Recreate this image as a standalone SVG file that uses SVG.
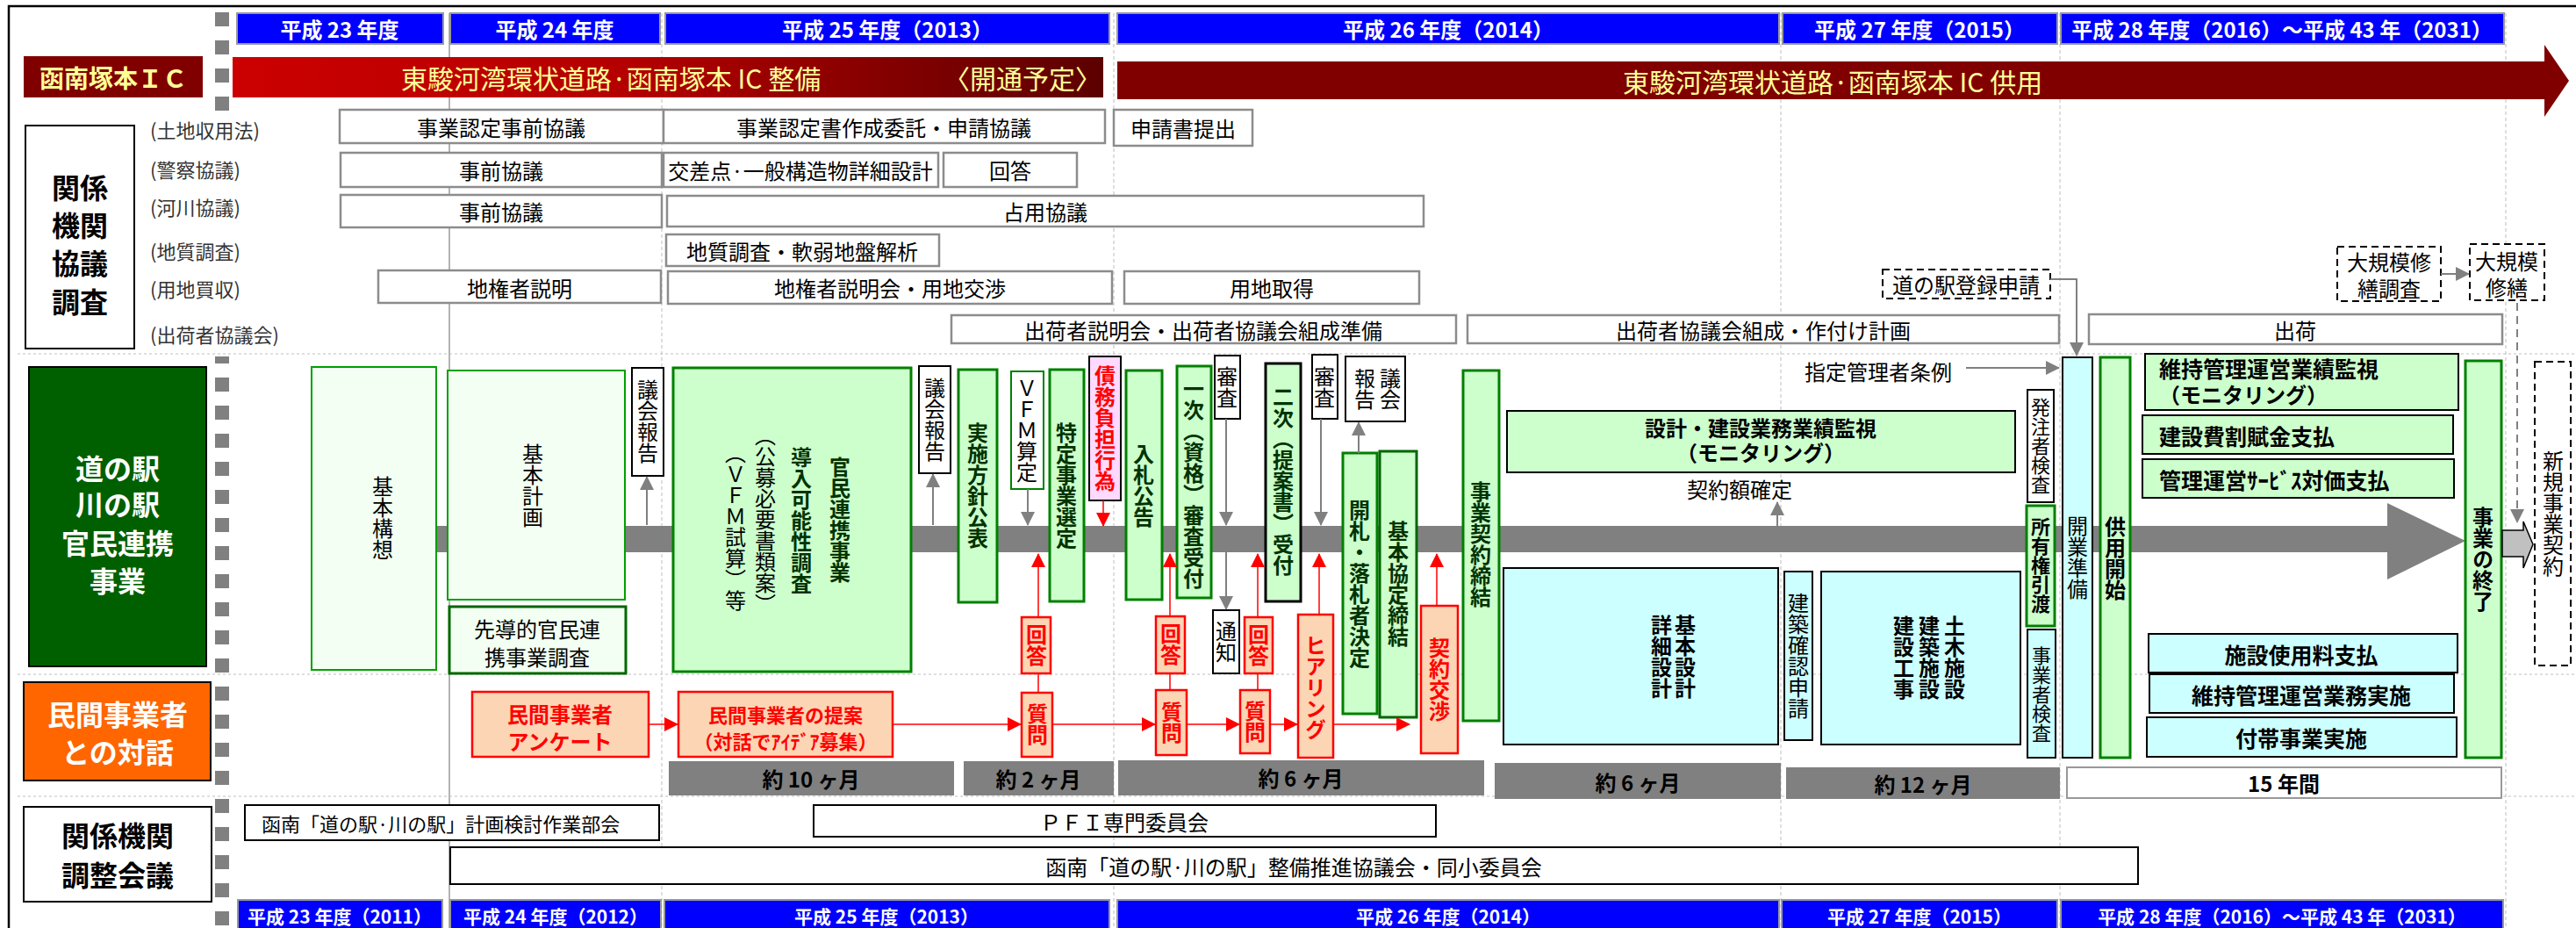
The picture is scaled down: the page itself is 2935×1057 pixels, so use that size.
<svg xmlns="http://www.w3.org/2000/svg" width="2935" height="1057" viewBox="0 0 2935 1057">
<defs>
<style>
text{font-family:"Noto Sans CJK JP","Noto Sans",sans-serif;fill:#000;font-size:24px}
.m{text-anchor:middle;dominant-baseline:central}
.st{dominant-baseline:central}
.v{writing-mode:vertical-rl;text-anchor:middle;dominant-baseline:central}
.b{font-weight:bold}
.s21{font-size:21px}.s22{font-size:22px}.s25{font-size:25px}.s28{font-size:28px}.s30{font-size:30px}.s32{font-size:32px}
.yw{fill:#fff;font-weight:bold}
.yl{fill:#FFFF99}
.red{fill:#FF0000;font-weight:bold}
.dg{fill:#003300;font-weight:bold}
.cat{fill:#333;font-size:22px;dominant-baseline:central}
.yr{fill:#0000FF;stroke:#999;stroke-width:2}
.row{fill:#fff;stroke:#8c8c8c;stroke-width:2.5}
.g{fill:#CCFFCC;stroke:#008000;stroke-width:3}
.gl{fill:#F2FFF2;stroke:#00A000;stroke-width:2}
.cy{fill:#CCFFFF;stroke:#000;stroke-width:2}
.gk{fill:#CCFFCC;stroke:#000;stroke-width:2}
.wb{fill:#fff;stroke:#000;stroke-width:2}
.or{fill:#FCD5B4;stroke:#FF0000;stroke-width:2.5}
.dash{fill:#fff;stroke:#000;stroke-width:2;stroke-dasharray:8 5}
.dur{fill:#808080}
.ga{stroke:#808080;stroke-width:2;fill:none;marker-end:url(#ag)}
.ra{stroke:#FF0000;stroke-width:1.5;fill:none}
.rae{stroke:#FF0000;stroke-width:1.5;fill:none;marker-end:url(#ar)}
.grid{stroke:#c8c8c8;stroke-width:1.2;stroke-dasharray:4 3}
.hdiv{stroke:#c0c0c0;stroke-width:1.2;stroke-dasharray:3 3}
.col{stroke:#808080;stroke-width:16;stroke-dasharray:16 16}
</style>
<marker id="ag" markerUnits="userSpaceOnUse" markerWidth="16" markerHeight="16" refX="15" refY="8" orient="auto"><path d="M0,0 L16,8 L0,16 z" fill="#808080"/></marker>
<marker id="ar" markerUnits="userSpaceOnUse" markerWidth="16" markerHeight="16" refX="15" refY="8" orient="auto"><path d="M0,0 L16,8 L0,16 z" fill="#FF0000"/></marker>
<linearGradient id="rg" x1="0" y1="0" x2="1" y2="0">
<stop offset="0" stop-color="#CC0000"/><stop offset="0.45" stop-color="#B40000"/><stop offset="1" stop-color="#5C0000"/>
</linearGradient>
</defs>
<rect x="0" y="0" width="2935" height="1057" fill="#fff"/>
<g id="grid">
<line x1="512" y1="15" x2="512" y2="1057" stroke="#9a9a9a" stroke-width="1.5"/>
<line class="grid" x1="754" y1="15" x2="754" y2="1057"/>
<line class="grid" x1="1269" y1="15" x2="1269" y2="1057"/>
<line class="grid" x1="2029" y1="15" x2="2029" y2="1057"/>
<line class="grid" x1="2347" y1="15" x2="2347" y2="1057"/>
<line class="grid" x1="2855" y1="15" x2="2855" y2="1057"/>
<line class="hdiv" x1="20" y1="403" x2="2935" y2="403"/>
<line class="hdiv" x1="20" y1="768" x2="2935" y2="768"/>
<line class="hdiv" x1="20" y1="907" x2="2935" y2="907"/>
</g>
<path d="M10,1057 V7 H2935" fill="none" stroke="#000" stroke-width="2.5"/>
<line class="col" x1="253" y1="14" x2="253" y2="126"/>
<line class="col" x1="253" y1="406" x2="253" y2="1057" stroke-dashoffset="8"/>

<g id="years-top">
<rect class="yr" x="270" y="15" width="235" height="35" stroke="none"/><text class="m yw" x="387" y="32">平成 23 年度</text>
<rect class="yr" x="513" y="15" width="239" height="35"/><text class="m yw" x="632" y="32">平成 24 年度</text>
<rect class="yr" x="758" y="15" width="506" height="35"/><text class="m yw" x="1011" y="32">平成 25 年度（2013）</text>
<rect class="yr" x="1273" y="15" width="754" height="35"/><text class="m yw" x="1650" y="32">平成 26 年度（2014）</text>
<rect class="yr" x="2031" y="15" width="313" height="35"/><text class="m yw" x="2187" y="32">平成 27 年度（2015）</text>
<rect class="yr" x="2348" y="15" width="505" height="35" stroke="none"/><text class="m yw" x="2600" y="32">平成 28 年度（2016）〜平成 43 年（2031）</text>
</g>
<g id="years-bottom">
<rect class="yr" x="271" y="1025" width="233" height="40" stroke="none"/><text class="m yw s21" x="387" y="1043">平成 23 年度（2011）</text>
<rect class="yr" x="513" y="1025" width="240" height="40"/><text class="m yw s21" x="633" y="1043">平成 24 年度（2012）</text>
<rect class="yr" x="757" y="1025" width="507" height="40"/><text class="m yw s21" x="1010" y="1043">平成 25 年度（2013）</text>
<rect class="yr" x="1273" y="1025" width="754" height="40"/><text class="m yw s21" x="1650" y="1043">平成 26 年度（2014）</text>
<rect class="yr" x="2030" y="1025" width="314" height="40"/><text class="m yw s21" x="2187" y="1043">平成 27 年度（2015）</text>
<rect class="yr" x="2348" y="1025" width="504" height="40" stroke="none"/><text class="m yw s21" x="2600" y="1043">平成 28 年度（2016）〜平成 43 年（2031）</text>
</g>

<g id="ic-label"><rect x="27" y="64" width="204" height="47" fill="#800000"/><text class="m s28 b yl" x="129" y="88">函南塚本ＩＣ</text></g>
<g id="ic-build"><rect x="265" y="65" width="992" height="46" fill="url(#rg)"/>
<text class="st s30 yl" x="457" y="88">東駿河湾環状道路·函南塚本 IC 整備</text>
<text class="st s30 yl" x="1255" y="88" text-anchor="end">〈開通予定〉</text></g>
<g id="ic-use"><path d="M1273,70 H2899 V51 L2927,92 L2899,133 V113 H1273 Z" fill="#800000"/>
<text class="st s30 yl" x="1849" y="92">東駿河湾環状道路·函南塚本 IC 供用</text></g>

<g id="label-kankei"><rect class="wb" x="29" y="143" width="124" height="254"/>
<text class="m s32 b" x="91" y="212">関係</text><text class="m s32 b" x="91" y="255">機関</text><text class="m s32 b" x="91" y="298">協議</text><text class="m s32 b" x="91" y="342">調査</text></g>
<g id="categories">
<text class="cat" x="171" y="147">(土地収用法)</text>
<text class="cat" x="171" y="192">(警察協議)</text>
<text class="cat" x="171" y="235">(河川協議)</text>
<text class="cat" x="171" y="285">(地質調査)</text>
<text class="cat" x="171" y="328">(用地買収)</text>
<text class="cat" x="171" y="380">(出荷者協議会)</text>
</g>
<g id="r1a"><rect class="row" x="387" y="125" width="369" height="38"/><text class="m" x="571" y="144">事業認定事前協議</text></g>
<g id="r1b"><rect class="row" x="756" y="125" width="503" height="38"/><text class="m" x="1007" y="144">事業認定書作成委託・申請協議</text></g>
<g id="r1c"><rect class="row" x="1269" y="125" width="158" height="41"/><text class="m" x="1348" y="145">申請書提出</text></g>
<g id="r2a"><rect class="row" x="388" y="174" width="366" height="39"/><text class="m" x="571" y="193">事前協議</text></g>
<g id="r2b"><rect class="row" x="756" y="174" width="313" height="39"/><text class="m" x="912" y="193">交差点·一般構造物詳細設計</text></g>
<g id="r2c"><rect class="row" x="1075" y="174" width="152" height="39"/><text class="m" x="1151" y="193">回答</text></g>
<g id="r3a"><rect class="row" x="388" y="222" width="366" height="37"/><text class="m" x="571" y="240">事前協議</text></g>
<g id="r3b"><rect class="row" x="760" y="223" width="862" height="35"/><text class="m" x="1191" y="240">占用協議</text></g>
<g id="r4a"><rect class="row" x="759" y="267" width="311" height="36"/><text class="m" x="914" y="285">地質調査・軟弱地盤解析</text></g>
<g id="r5a"><rect class="row" x="431" y="308" width="322" height="37"/><text class="m" x="592" y="327">地権者説明</text></g>
<g id="r5b"><rect class="row" x="761" y="309" width="506" height="37"/><text class="m" x="1014" y="327">地権者説明会・用地交渉</text></g>
<g id="r5c"><rect class="row" x="1281" y="309" width="336" height="37"/><text class="m" x="1449" y="327">用地取得</text></g>
<g id="r5d"><rect class="dash" x="2145" y="307" width="191" height="33"/><text class="m" x="2240" y="323">道の駅登録申請</text></g>
<g id="r6a"><rect class="row" x="1084" y="359" width="575" height="32"/><text class="m" x="1371" y="375">出荷者説明会・出荷者協議会組成準備</text></g>
<g id="r6b"><rect class="row" x="1672" y="359" width="674" height="32"/><text class="m" x="2009" y="375">出荷者協議会組成・作付け計画</text></g>
<g id="r6c"><rect class="row" x="2380" y="358" width="471" height="34"/><text class="m" x="2615" y="375">出荷</text></g>
<g id="survey"><rect class="dash" x="2663" y="281" width="118" height="62"/><text class="m" x="2722" y="297">大規模修</text><text class="m" x="2722" y="327">繕調査</text></g>
<g id="repair"><rect class="dash" x="2814" y="278" width="85" height="64"/><text class="m" x="2856" y="296">大規模</text><text class="m" x="2856" y="326">修繕</text></g>

<g id="label-michi"><rect x="33" y="418" width="202" height="341" fill="#006000" stroke="#000" stroke-width="2"/>
<text class="m s32 yw" x="134" y="532">道の駅</text><text class="m s32 yw" x="134" y="573">川の駅</text><text class="m s32 yw" x="134" y="617">官民連携</text><text class="m s32 yw" x="134" y="660">事業</text></g>
<g id="label-minkan"><rect x="27" y="777" width="213" height="112" fill="#FF6600" stroke="#000" stroke-width="2"/>
<text class="m s32 yw" x="134" y="812">民間事業者</text><text class="m s32 yw" x="134" y="855">との対話</text></g>
<g id="label-chousei"><rect class="wb" x="27" y="919" width="214" height="108"/>
<text class="m s32 b" x="134" y="950">関係機関</text><text class="m s32 b" x="134" y="995">調整会議</text></g>

<path id="timeline" d="M497,599 H2720 V573 L2809,616 L2720,660 V629 H497 Z" fill="#808080"/>

<g id="kihonkousou"><rect class="gl" x="355" y="418" width="142" height="345"/><text class="v" x="436" y="590">基本構想</text></g>
<g id="kihonkeikaku"><rect class="gl" x="510" y="422" width="202" height="261"/><text class="v" x="607" y="553">基本計画</text></g>
<g id="sendou"><rect x="512" y="691" width="201" height="76" fill="#F2FFF2" stroke="#006600" stroke-width="3"/><text class="m" x="612" y="715">先導的官民連</text><text class="m" x="612" y="747">携事業調査</text></g>
<g id="gikai1"><rect class="wb" x="720" y="419" width="36" height="123"/><text class="v" x="738" y="480">議会報告</text></g>
<g id="kanmin"><rect class="g" x="767" y="419" width="271" height="346"/>
<text class="v dg" x="957" y="592">官民連携事業</text>
<text class="v dg" x="913" y="593">導入可能性調査</text>
<text class="v" x="872" y="592">（公募必要書類案）</text>
<text class="v" x="838" y="600">（ＶＦＭ試算）等</text></g>
<g id="gikai2"><rect class="wb" x="1047" y="417" width="36" height="122"/><text class="v" x="1065" y="478">議会報告</text></g>
<g id="jisshi"><rect class="g" x="1092" y="421" width="44" height="265"/><text class="v dg" x="1114" y="553">実施方針公表</text></g>
<g id="vfm"><rect x="1152" y="423" width="37" height="134" fill="#fff" stroke="#008000" stroke-width="2"/><text class="v" x="1170" y="490">ＶＦＭ算定</text></g>
<g id="tokutei"><rect class="g" x="1196" y="421" width="39" height="264"/><text class="v dg" x="1215" y="553">特定事業選定</text></g>
<g id="saimu"><rect x="1241" y="406" width="36" height="164" fill="#FFD9FF" stroke="#000" stroke-width="2"/><text class="v red" x="1259" y="488">債務負担行為</text></g>
<g id="nyusatsu"><rect class="g" x="1283" y="422" width="41" height="261"/><text class="v dg" x="1303" y="553">入札公告</text></g>
<g id="ichiji"><rect class="g" x="1341" y="417" width="39" height="264"/><text class="v dg" x="1360" y="551">一次（資格）審査受付</text></g>
<g id="shinsa1"><rect class="wb" x="1384" y="405" width="29" height="72"/><text class="v" x="1398" y="441">審査</text></g>
<g id="tsuchi"><rect class="wb" x="1382" y="695" width="30" height="72"/><text class="v" x="1397" y="731">通知</text></g>
<g id="niji"><rect x="1442" y="414" width="40" height="271" fill="#CCFFCC" stroke="#000" stroke-width="3"/><text class="v dg" x="1462" y="548">二次（提案書）受付</text></g>
<g id="shinsa2"><rect class="wb" x="1495" y="404" width="29" height="73"/><text class="v" x="1509" y="441">審査</text></g>
<g id="houkoku"><rect class="wb" x="1533" y="406" width="68" height="74"/><text class="v" x="1584" y="443">議会</text><text class="v" x="1555" y="443">報告</text></g>
<g id="kaisatsu"><rect class="g" x="1530" y="516" width="39" height="297"/><text class="v dg" x="1549" y="665">開札・落札者決定</text></g>
<g id="kyoutei"><rect x="1572" y="514" width="42" height="303" fill="#CCFFCC" stroke="#006600" stroke-width="3"/><text class="v dg" x="1593" y="665">基本協定締結</text></g>
<g id="keiyaku"><rect class="g" x="1667" y="422" width="41" height="399"/><text class="v dg" x="1687" y="620">事業契約締結</text></g>
<g id="monitor1"><rect class="gk" x="1717" y="468" width="579" height="70"/><text class="m b" x="2006" y="486">設計・建設業務業績監視</text><text class="m b" x="2006" y="514">（モニタリング）</text></g>
<g id="kakutei"><text class="m" x="1982" y="556">契約額確定</text></g>
<g id="sekkei"><rect class="cy" x="1713" y="647" width="313" height="201"/><text class="v b" x="1920" y="748">基本設計</text><text class="v b" x="1893" y="748">詳細設計</text></g>
<g id="kakunin"><rect class="cy" x="2033" y="651" width="32" height="192"/><text class="v" x="2049" y="747">建築確認申請</text></g>
<g id="kouji"><rect class="cy" x="2075" y="651" width="227" height="197"/><text class="v b" x="2227" y="749">土木施設</text><text class="v b" x="2198" y="749">建築施設</text><text class="v b" x="2169" y="749">建設工事</text></g>
<g id="jourei"><text class="st" x="2056" y="422">指定管理者条例</text></g>
<g id="hacchu"><rect class="wb" x="2310" y="444" width="30" height="128"/><text class="v s22" x="2325" y="508">発注者検査</text></g>
<g id="shoyuu"><rect class="g" x="2309" y="576" width="32" height="137"/><text class="v s22 b" x="2325" y="644" fill="#006000">所有権引渡</text></g>
<g id="jigyousha"><rect class="cy" x="2310" y="717" width="32" height="146"/><text class="v s22" x="2326" y="791">事業者検査</text></g>
<g id="kaigyou"><rect class="cy" x="2350" y="407" width="34" height="456"/><text class="v" x="2367" y="635">開業準備</text></g>
<g id="kyouyou"><rect class="g" x="2393" y="407" width="34" height="456"/><text class="v b" x="2410" y="636" fill="#006000">供用開始</text></g>
<g id="monitor2"><rect class="gk" x="2444" y="403" width="357" height="64"/><text class="st b s25" x="2460" y="419">維持管理運営業績監視</text><text class="st b" x="2460" y="448">（モニタリング）</text></g>
<g id="kappu"><rect class="gk" x="2441" y="473" width="354" height="44"/><text class="st b s25" x="2460" y="496">建設費割賦金支払</text></g>
<g id="service"><rect class="gk" x="2441" y="523" width="355" height="44"/><text class="st b s25" x="2460" y="546">管理運営ｻｰﾋﾞｽ対価支払</text></g>
<g id="shiyouryou"><rect class="cy" x="2448" y="722" width="352" height="44"/><text class="m b s25" x="2622" y="745">施設使用料支払</text></g>
<g id="jisshi2"><rect class="cy" x="2449" y="768" width="347" height="44"/><text class="m b s25" x="2622" y="791">維持管理運営業務実施</text></g>
<g id="futai"><rect class="cy" x="2446" y="817" width="353" height="45"/><text class="m b s25" x="2622" y="840">付帯事業実施</text></g>
<g id="shuuryou"><rect class="g" x="2809" y="411" width="41" height="452"/><text class="v b" x="2829" y="637" fill="#006000">事業の終了</text></g>
<g id="next-arrow"><path d="M2851,604 H2875 V594 L2886,620 L2875,647 V634 H2851 Z" fill="#C0C0C0" stroke="#000" stroke-width="1.5"/></g>
<g id="shinki"><rect class="dash" x="2888" y="412" width="41" height="346"/><text class="v" x="2909" y="585">新規事業契約</text></g>

<g id="enquete"><rect class="or" x="538" y="788" width="201" height="74"/><text class="m red" x="638" y="812">民間事業者</text><text class="m red" x="638" y="843">アンケート</text></g>
<g id="teian"><rect class="or" x="773" y="788" width="244" height="74"/><text class="m red s22" x="895" y="813">民間事業者の提案</text><text class="m red s22" x="895" y="843">（対話でｱｲﾃﾞｱ募集）</text></g>
<g id="q1"><rect class="or" x="1164" y="789" width="35" height="73"/><text class="v red" x="1182" y="825">質問</text></g>
<g id="a1"><rect class="or" x="1164" y="703" width="33" height="64"/><text class="v red" x="1181" y="735">回答</text></g>
<g id="q2"><rect class="or" x="1317" y="786" width="35" height="74"/><text class="v red" x="1335" y="823">質問</text></g>
<g id="a2"><rect class="or" x="1317" y="702" width="33" height="65"/><text class="v red" x="1334" y="734">回答</text></g>
<g id="q3"><rect class="or" x="1413" y="786" width="34" height="72"/><text class="v red" x="1430" y="822">質問</text></g>
<g id="a3"><rect class="or" x="1418" y="703" width="32" height="64"/><text class="v red" x="1434" y="735">回答</text></g>
<g id="hearing"><rect class="or" x="1479" y="700" width="40" height="163"/><text class="v red" x="1499" y="783">ヒアリング</text></g>
<g id="koushou"><rect class="or" x="1619" y="690" width="42" height="168"/><text class="v red" x="1640" y="774">契約交渉</text></g>

<g id="durations">
<rect class="dur" x="762" y="867" width="325" height="39"/><text class="m b" x="924" y="886">約 10 ヶ月</text>
<rect class="dur" x="1098" y="867" width="171" height="39"/><text class="m b" x="1183" y="886">約 2 ヶ月</text>
<rect class="dur" x="1274" y="866" width="417" height="40"/><text class="m b" x="1482" y="885">約 6 ヶ月</text>
<rect class="dur" x="1703" y="869" width="326" height="41"/><text class="m b" x="1866" y="890">約 6 ヶ月</text>
<rect class="dur" x="2035" y="874" width="312" height="36"/><text class="m b" x="2191" y="892">約 12 ヶ月</text>
<rect x="2355" y="874" width="495" height="35" fill="#fff" stroke="#999" stroke-width="2"/><text class="m b" x="2602" y="891">15 年間</text>
</g>
<g id="bukai"><rect class="wb" x="279" y="917" width="472" height="40"/><text class="st s22" x="298" y="937">函南「道の駅·川の駅」計画検討作業部会</text></g>
<g id="pfi"><rect class="wb" x="927" y="917" width="709" height="36"/><text class="m" x="1281" y="935">ＰＦＩ専門委員会</text></g>
<g id="kyougikai"><rect class="wb" x="513" y="965" width="1923" height="42"/><text class="m" x="1474" y="986">函南「道の駅·川の駅」整備推進協議会・同小委員会</text></g>

<g id="connectors">
<line class="ga" x1="737" y1="598" x2="737" y2="543"/>
<line class="ga" x1="1063" y1="598" x2="1063" y2="540"/>
<line class="ga" x1="1171" y1="557" x2="1171" y2="598"/>
<line class="ga" x1="1397" y1="477" x2="1397" y2="598"/>
<line class="ga" x1="1397" y1="629" x2="1397" y2="694"/>
<line class="ga" x1="1505" y1="477" x2="1505" y2="598"/>
<line class="ga" x1="1548" y1="516" x2="1548" y2="481"/>
<line class="ga" x1="2025" y1="599" x2="2025" y2="572"/>
<line class="ga" x1="2240" y1="419" x2="2346" y2="419"/>
<path class="ga" d="M2336,318 H2366 V405"/>
<line class="ga" x1="2781" y1="312" x2="2813" y2="312"/>
<line class="ga" x1="2868" y1="345" x2="2868" y2="595" stroke-dasharray="9 6"/>
<line class="rae" x1="1257" y1="570" x2="1257" y2="599"/>
<line class="rae" x1="1183" y1="703" x2="1183" y2="631"/>
<line class="ra" x1="1183" y1="789" x2="1183" y2="767"/>
<line class="rae" x1="1333" y1="702" x2="1333" y2="631"/>
<line class="ra" x1="1333" y1="786" x2="1333" y2="767"/>
<line class="rae" x1="1433" y1="703" x2="1433" y2="631"/>
<line class="ra" x1="1433" y1="786" x2="1433" y2="767"/>
<line class="rae" x1="1503" y1="700" x2="1503" y2="631"/>
<line class="rae" x1="1637" y1="690" x2="1637" y2="631"/>
<line class="rae" x1="739" y1="825" x2="772" y2="825"/>
<line class="rae" x1="1017" y1="825" x2="1163" y2="825"/>
<line class="rae" x1="1199" y1="825" x2="1316" y2="825"/>
<line class="rae" x1="1352" y1="825" x2="1412" y2="825"/>
<line class="rae" x1="1447" y1="825" x2="1478" y2="825"/>
<line class="rae" x1="1519" y1="825" x2="1606" y2="825"/>
</g>
</svg>
